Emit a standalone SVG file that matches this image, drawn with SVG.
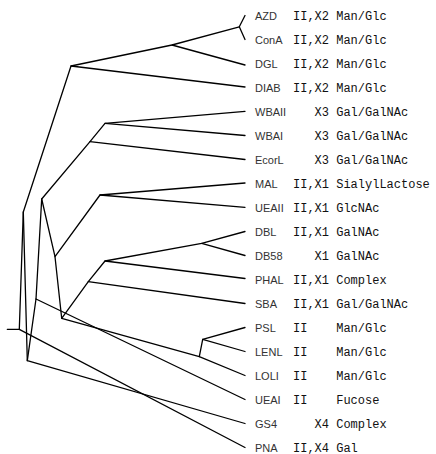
<svg xmlns="http://www.w3.org/2000/svg" width="436" height="454" viewBox="0 0 436 454">
<style>
.e{stroke:#000;stroke-width:1.3;fill:none;stroke-linecap:round;stroke-linejoin:round}
.n{font-family:"Liberation Sans",Arial,sans-serif;font-size:11px;fill:#333}
.m{font-family:"Liberation Mono","Courier New",monospace;font-size:12px;fill:#111;white-space:pre}
</style>
<rect width="436" height="454" fill="#fff"/>
<g id="connectors" class="e">
<path d="M7.3 329.3H19.3"/>
<path d="M19.3 329.3L23.3 212L71 66L172 45L239.3 26.8L245 15.5"/>
<path d="M239.3 26.8L245 39.5"/>
<path d="M172 45L245 65"/>
<path d="M71 66L245 87"/>
<path d="M19.3 329.3L245 447.5"/>
<path d="M23.3 212L27.3 360.7L245 423.5"/>
<path d="M27.3 360.7L36 299L245 399.5"/>
<path d="M36 299L41.7 199L90 141.7L105 123.3L245 111.3"/>
<path d="M105 123.3L245 135.5"/>
<path d="M90 141.7L245 159.5"/>
<path d="M41.7 199L55 256.7L100 195L245 183"/>
<path d="M100 195L245 207.3"/>
<path d="M55 256.7L61.7 318.3L88.3 281.7L105 261L201.7 243.3L245 231.5"/>
<path d="M201.7 243.3L245 255.5"/>
<path d="M105 261L245 278.5"/>
<path d="M88.3 281.7L245 303.5"/>
<path d="M61.7 318.3L199.3 356.7L245 375.5"/>
<path d="M199.3 356.7L202.7 339.3L245 327.5"/>
<path d="M202.7 339.3L245 351.5"/>
</g>
<g id="AZD"><text class="n" x="255" y="19.5">AZD</text><text class="m" x="293" y="19.5">II,X2 Man/Glc</text></g>
<g id="ConA"><text class="n" x="255" y="43.5">ConA</text><text class="m" x="293" y="43.5">II,X2 Man/Glc</text></g>
<g id="DGL"><text class="n" x="255" y="67.5">DGL</text><text class="m" x="293" y="67.5">II,X2 Man/Glc</text></g>
<g id="DIAB"><text class="n" x="255" y="91.5">DIAB</text><text class="m" x="293" y="91.5">II,X2 Man/Glc</text></g>
<g id="WBAII"><text class="n" x="255" y="115.5">WBAII</text><text class="m" x="293" y="115.5">   X3 Gal/GalNAc</text></g>
<g id="WBAI"><text class="n" x="255" y="139.5">WBAI</text><text class="m" x="293" y="139.5">   X3 Gal/GalNAc</text></g>
<g id="EcorL"><text class="n" x="255" y="163.5">EcorL</text><text class="m" x="293" y="163.5">   X3 Gal/GalNAc</text></g>
<g id="MAL"><text class="n" x="255" y="187.5">MAL</text><text class="m" x="293" y="187.5">II,X1 SialylLactose</text></g>
<g id="UEAII"><text class="n" x="255" y="211.5">UEAII</text><text class="m" x="293" y="211.5">II,X1 GlcNAc</text></g>
<g id="DBL"><text class="n" x="255" y="235.5">DBL</text><text class="m" x="293" y="235.5">II,X1 GalNAc</text></g>
<g id="DB58"><text class="n" x="255" y="259.5">DB58</text><text class="m" x="293" y="259.5">   X1 GalNAc</text></g>
<g id="PHAL"><text class="n" x="255" y="283.5">PHAL</text><text class="m" x="293" y="283.5">II,X1 Complex</text></g>
<g id="SBA"><text class="n" x="255" y="307.5">SBA</text><text class="m" x="293" y="307.5">II,X1 Gal/GalNAc</text></g>
<g id="PSL"><text class="n" x="255" y="331.5">PSL</text><text class="m" x="293" y="331.5">II    Man/Glc</text></g>
<g id="LENL"><text class="n" x="255" y="355.5">LENL</text><text class="m" x="293" y="355.5">II    Man/Glc</text></g>
<g id="LOLI"><text class="n" x="255" y="379.5">LOLI</text><text class="m" x="293" y="379.5">II    Man/Glc</text></g>
<g id="UEAI"><text class="n" x="255" y="403.5">UEAI</text><text class="m" x="293" y="403.5">II    Fucose</text></g>
<g id="GS4"><text class="n" x="255" y="427.5">GS4</text><text class="m" x="293" y="427.5">   X4 Complex</text></g>
<g id="PNA"><text class="n" x="255" y="451.5">PNA</text><text class="m" x="293" y="451.5">II,X4 Gal</text></g>
</svg>
